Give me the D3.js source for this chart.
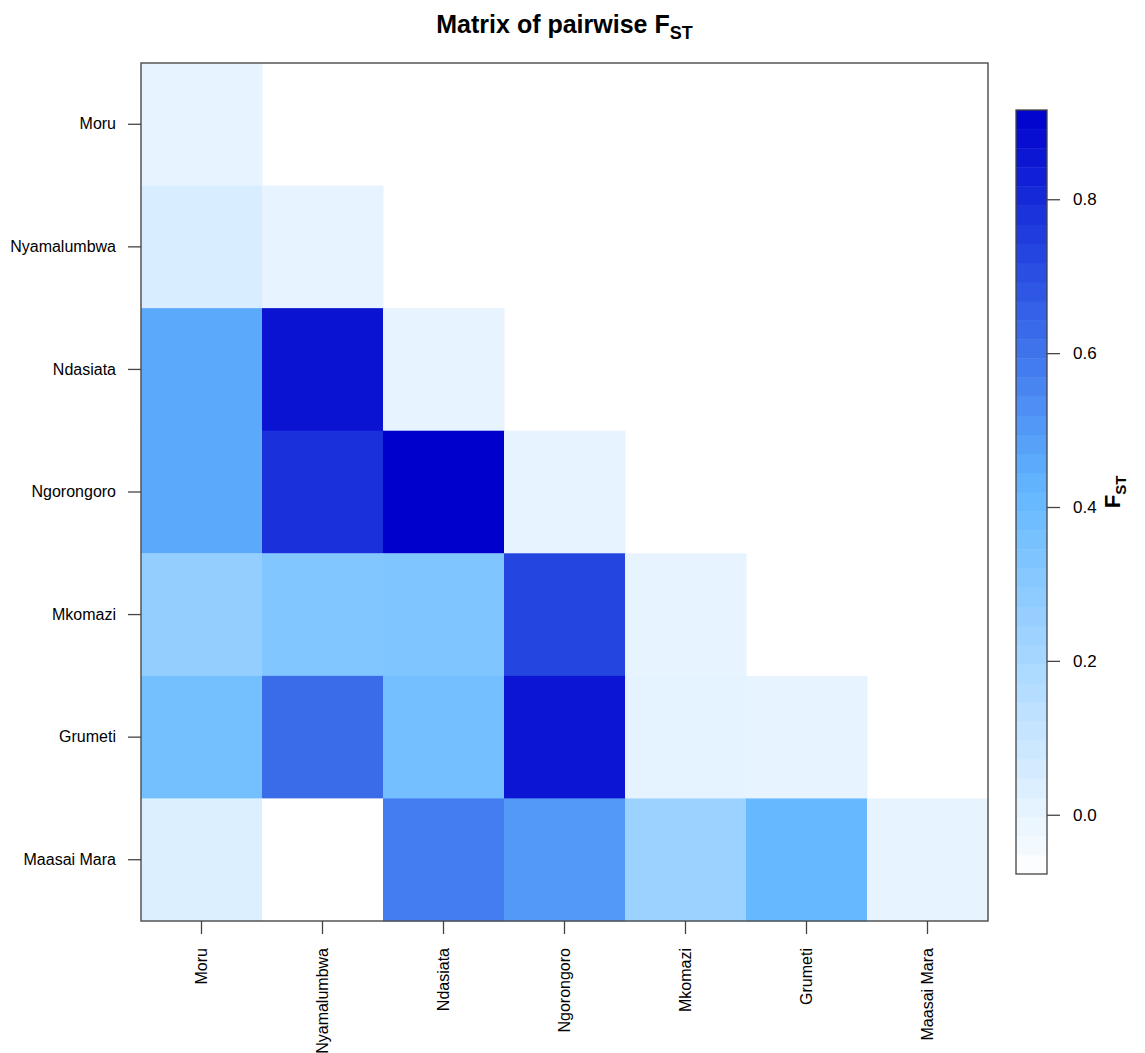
<!DOCTYPE html>
<html>
<head>
<meta charset="utf-8">
<script src="https://cdn.jsdelivr.net/npm/d3@7"></script>
<style>
  body { margin: 0; background: #fff; }
  text { font-family: "Liberation Sans", Arial, sans-serif; fill: #000; }
</style>
</head>
<body>
<div id="chartContainer"></div>
<script>
const populations = ['Moru', 'Nyamalumbwa', 'Ndasiata', 'Ngorongoro', 'Mkomazi', 'Grumeti', 'Maasai Mara'];

// lower triangle of the pairwise FST matrix, one row per population (diagonal included)
const fstMoru = [0.0];
const fstNyamalumbwa = [0.047, 0.0];
const fstNdasiata = [0.46, 0.866, 0.0];
const fstNgorongoro = [0.46, 0.787, 0.916, 0.0];
const fstMkomazi = [0.264, 0.32, 0.33, 0.73, 0.0];
const fstGrumeti = [0.365, 0.625, 0.37, 0.86, 0.01, 0.0];
const fstMaasaiMara = [0.034, -0.077, 0.58, 0.5, 0.238, 0.41, 0.0];

const legendTicks = [0.0, 0.2, 0.4, 0.6, 0.8];

const rows = [fstMoru, fstNyamalumbwa, fstNdasiata, fstNgorongoro, fstMkomazi, fstGrumeti, fstMaasaiMara];
const cells = [];
rows.forEach((r, i) => r.forEach((v, j) => cells.push({ row: populations[i], col: populations[j], value: v })));

const svgWidth = 1145;
const svgHeight = 1053;
const plot = { left: 141, right: 988, top: 63, bottom: 921 };

const svg = d3.select('#chartContainer').append('svg').attr('width', svgWidth).attr('height', svgHeight);

const xScale = d3.scaleBand().domain(populations).range([plot.left, plot.right]);
const yScale = d3.scaleBand().domain(populations).range([plot.top, plot.bottom]);

const [vMin, vMax] = d3.extent(cells, (d) => d.value);
const color = d3.scaleLinear()
    .domain([vMin, (vMin + vMax) / 2, vMax])
    .range(['#FFFFFF', '#63B8FF', '#0000CD']);

svg.append('g')
    .selectAll('rect')
    .data(cells)
    .enter()
    .append('rect')
    .attr('x', (d) => xScale(d.col))
    .attr('y', (d) => yScale(d.row))
    .attr('width', xScale.bandwidth() + 0.5)
    .attr('height', yScale.bandwidth() + 0.5)
    .attr('fill', (d) => color(d.value));

// plot frame
svg.append('rect')
    .attr('x', plot.left)
    .attr('y', plot.top)
    .attr('width', plot.right - plot.left)
    .attr('height', plot.bottom - plot.top)
    .attr('fill', 'none')
    .attr('stroke', '#555')
    .attr('stroke-width', 1.5);

// y axis
const yAxis = svg.append('g').attr('transform', `translate(${plot.left},0)`)
    .call(d3.axisLeft(yScale).tickSize(13).tickPadding(12));
yAxis.select('.domain').remove();
yAxis.selectAll('line').attr('stroke', '#444').attr('stroke-width', 1.3);
yAxis.selectAll('text').attr('font-size', 16).attr('font-family', '"Liberation Sans", Arial, sans-serif').attr('fill', '#000');

// x axis
const xAxis = svg.append('g').attr('transform', `translate(0,${plot.bottom})`)
    .call(d3.axisBottom(xScale).tickSize(13).tickPadding(0));
xAxis.select('.domain').remove();
xAxis.selectAll('line').attr('stroke', '#444').attr('stroke-width', 1.3);
xAxis.selectAll('text')
    .attr('font-size', 16)
    .attr('font-family', '"Liberation Sans", Arial, sans-serif')
    .attr('fill', '#000')
    .attr('text-anchor', 'end')
    .attr('dy', '0.35em')
    .attr('transform', 'translate(0,27) rotate(-90)')
    .attr('y', 0)
    .attr('x', 0);

// title
const title = svg.append('text')
    .attr('x', (plot.left + plot.right) / 2)
    .attr('y', 33)
    .attr('text-anchor', 'middle')
    .attr('font-size', 25)
    .attr('font-weight', 'bold');
title.append('tspan').text('Matrix of pairwise F');
title.append('tspan').attr('dy', 6).attr('font-size', 18).text('ST');

// colour key
const key = { left: 1016, right: 1047, top: 110, bottom: 874 };
const keyScale = d3.scaleLinear().domain([vMin, vMax]).range([key.bottom, key.top]);
const steps = 40;
const stepVals = d3.range(steps).map((i) => vMin + (vMax - vMin) * i / steps);
const stepH = (key.bottom - key.top) / steps;
svg.append('g')
    .selectAll('rect')
    .data(stepVals)
    .enter()
    .append('rect')
    .attr('x', key.left)
    .attr('y', (d) => keyScale(d) - stepH)
    .attr('width', key.right - key.left)
    .attr('height', stepH + 0.4)
    .attr('fill', (d) => color(d + (vMax - vMin) / steps / 2));

svg.append('rect')
    .attr('x', key.left)
    .attr('y', key.top)
    .attr('width', key.right - key.left)
    .attr('height', key.bottom - key.top)
    .attr('fill', 'none')
    .attr('stroke', '#444')
    .attr('stroke-width', 1.3);

const keyAxis = svg.append('g').attr('transform', `translate(${key.right},0)`)
    .call(d3.axisRight(keyScale).tickValues(legendTicks).tickFormat(d3.format('.1f')).tickSize(13).tickPadding(13));
keyAxis.select('.domain').remove();
keyAxis.selectAll('line').attr('stroke', '#444').attr('stroke-width', 1.3);
keyAxis.selectAll('text').attr('font-size', 17).attr('font-family', '"Liberation Sans", Arial, sans-serif').attr('fill', '#000');

const keyTitle = svg.append('text')
    .attr('transform', `translate(1120,${(key.top + key.bottom) / 2}) rotate(-90)`)
    .attr('text-anchor', 'middle')
    .attr('font-size', 22)
    .attr('font-weight', 'bold');
keyTitle.append('tspan').text('F');
keyTitle.append('tspan').attr('dy', 6).attr('font-size', 15).text('ST');
</script>
</body>
</html>
